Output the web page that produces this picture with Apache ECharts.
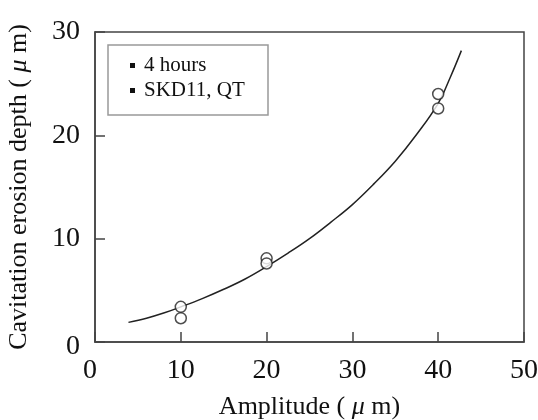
<!DOCTYPE html>
<html>
<head>
<meta charset="utf-8">
<script src="https://cdn.jsdelivr.net/npm/echarts@6/dist/echarts.min.js"></script>
<style>
  html, body { margin: 0; padding: 0; background: #fff; }
  #chart { width: 538px; height: 420px; }
</style>
</head>
<body>
<div id="chart"></div>
<script>
// measured points (amplitude um, depth um)
const measured = [
  [10, 3.4], [10, 2.3],
  [20, 8.1], [20, 7.6],
  [40, 24.0], [40, 22.6]
]
// fitted curve
const curveX = [3.9, 6, 8, 10, 12.5, 15, 17.5, 20, 22.5, 25, 27.5, 30, 32.5, 35, 37.5, 40, 41.4, 42.7]
const curveY = [1.9, 2.3, 2.8, 3.4, 4.2, 5.1, 6.1, 7.3, 8.6, 10.0, 11.6, 13.3, 15.3, 17.5, 20.1, 23.1, 25.6, 28.2]
const notes = ['4 hours', 'SKD11, QT']

const serif = '"Liberation Serif", "Times New Roman", serif'
const curve = curveX.map((x, i) => [x, curveY[i]])

const chart = echarts.init(document.getElementById('chart'))

chart.setOption({
  backgroundColor: '#fff',
  animation: false,
  textStyle: {fontFamily: serif},
  grid: {
    left: 95,
    right: 14,
    top: 32,
    bottom: 78,
    outerBoundsMode: 'none',
    show: true,
    borderColor: '#444',
    borderWidth: 1.5,
  },
  title: {
    left: 108,
    top: 43,
    padding: [10, 24, 14, 22],
    borderColor: '#999',
    borderWidth: 1.5,
    text: notes.map(t => '{b|}{t|' + t + '}').join('\n'),
    textStyle: {
      fontFamily: serif,
      fontWeight: 'normal',
      color: '#111',
      rich: {
        b: {width: 5, height: 5, backgroundColor: '#111'},
        t: {fontFamily: serif, fontSize: 21, lineHeight: 25, color: '#111', padding: [0, 0, 0, 9]},
      },
    },
  },
  xAxis: {
    type: 'value',
    min: 0,
    max: 50,
    interval: 10,
    name: 'Amplitude ( {mu|μ} m)',
    nameLocation: 'middle',
    nameGap: 52,
    nameTextStyle: {
      fontFamily: serif,
      fontSize: 26,
      color: '#111',
      rich: {mu: {fontFamily: serif, fontSize: 26, fontStyle: 'italic', color: '#111'}},
    },
    axisLine: {lineStyle: {color: '#444', width: 1.5}},
    axisTick: {inside: true, length: 10, lineStyle: {color: '#444', width: 1.5}},
    axisLabel: {
      margin: 15,
      fontFamily: serif,
      fontSize: 28,
      color: '#111',
      formatter: v => v === 0 ? '{z|0}' : String(v),
      rich: {z: {fontFamily: serif, fontSize: 28, color: '#111', padding: [0, 10, 0, 0]}},
    },
    splitLine: {show: false},
  },
  yAxis: {
    type: 'value',
    min: 0,
    max: 30,
    interval: 10,
    name: 'Cavitation erosion depth ( {mu|μ} m)',
    nameLocation: 'middle',
    nameGap: 63,
    nameTextStyle: {
      fontFamily: serif,
      fontSize: 26,
      color: '#111',
      rich: {mu: {fontFamily: serif, fontSize: 26, fontStyle: 'italic', color: '#111'}},
    },
    axisLine: {lineStyle: {color: '#444', width: 1.5}},
    axisTick: {inside: true, length: 10, lineStyle: {color: '#444', width: 1.5}},
    axisLabel: {
      margin: 15,
      fontFamily: serif,
      fontSize: 28,
      color: '#111',
      formatter: v => v === 0 ? '{z|0}' : String(v),
      rich: {z: {fontFamily: serif, fontSize: 28, color: '#111', padding: [10, 0, 0, 0]}},
    },
    splitLine: {show: false},
  },
  series: [
    {
      type: 'line',
      data: curve,
      smooth: 0.4,
      showSymbol: false,
      lineStyle: {color: '#222', width: 1.5},
      z: 2,
    },
    {
      type: 'scatter',
      data: measured,
      symbol: 'circle',
      symbolSize: 11,
      itemStyle: {color: '#fff', borderColor: '#222', borderWidth: 1.5},
      z: 3,
    },
  ],
})
</script>
</body>
</html>
